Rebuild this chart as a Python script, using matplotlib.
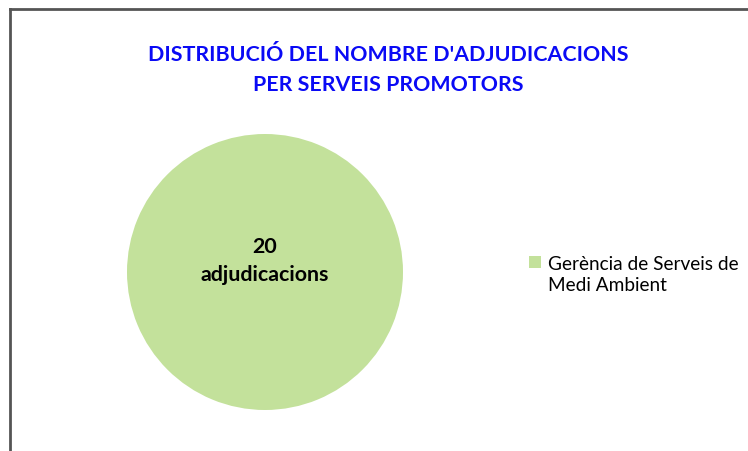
import matplotlib
matplotlib.use("Agg")
import matplotlib.pyplot as plt
from matplotlib.lines import Line2D
from matplotlib.patches import Patch

plt.rcParams['font.family'] = ['Lato', 'DejaVu Sans']

# data
categories = ["Gerència de Serveis de\nMedi Ambient"]
values = [20]
colors = ["#C3E19B"]
title = "DISTRIBUCIÓ DEL NOMBRE D'ADJUDICACIONS\nPER SERVEIS PROMOTORS"

W, H = 748, 452
fig = plt.figure(figsize=(W / 100, H / 100), dpi=100)

# frame of the chart area (only top/left visible)
fig.add_artist(Line2D([10 / W, 10 / W], [0, 1 - 10 / H], color="#555555", lw=2.0))
fig.add_artist(Line2D([10 / W, 1], [1 - 10 / H, 1 - 10 / H], color="#555555", lw=2.0))

# pie axes
r = 138
cx, cy = 265, 273
ax = fig.add_axes([(cx - r) / W, (H - cy - r) / H, 2 * r / W, 2 * r / H])
ax.pie(values, colors=colors, startangle=90, radius=1,
       wedgeprops=dict(linewidth=0))
ax.set_xlim(-1, 1)
ax.set_ylim(-1, 1)
ax.set_aspect("equal")
ax.axis("off")

for v in values:
    ax.text(0, 0.085, f"{v}\nadjudicacions", ha="center", va="center",
            fontsize=15.4, fontweight="bold", color="black", linespacing=1.5)

fig.text(388 / W, 1 - 70 / H, title, ha="center", va="center",
         fontsize=15.4, fontweight="bold", color="#0A0AF5", linespacing=1.6)

# legend: marker beside the first line only
handles, labels = [], []
for c, name in zip(colors, categories):
    lines = name.split("\n")
    handles.append(Patch(facecolor=c, edgecolor="none"))
    labels.append(lines[0])
    for extra in lines[1:]:
        handles.append(Patch(facecolor="none", edgecolor="none"))
        labels.append(extra)
fig.legend(handles, labels, loc="center left",
           bbox_to_anchor=(512 / W, 1 - 275 / H), frameon=False,
           fontsize=13.7, handlelength=0.62, handleheight=0.62, handletextpad=0.37,
           labelspacing=0.25)

fig.savefig("out.png", dpi=100, facecolor="white")
